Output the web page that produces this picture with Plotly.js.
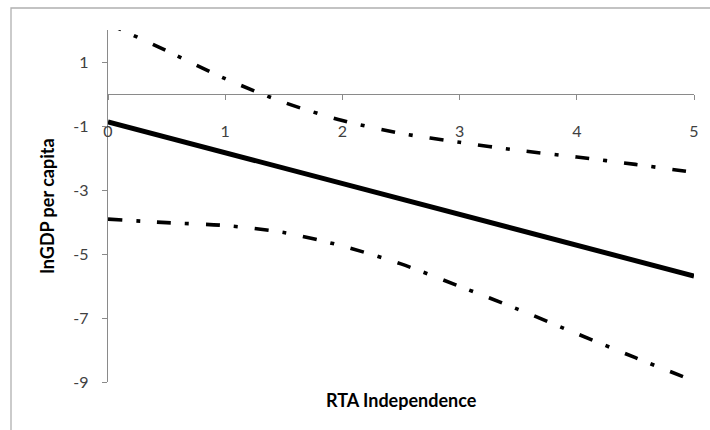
<!DOCTYPE html>
<html>
<head>
<meta charset="utf-8">
<script src="https://cdn.plot.ly/plotly-3.0.1.min.js"></script>
<style>
  html, body { margin: 0; padding: 0; background: #ffffff; }
  #chart { width: 710px; height: 430px; }
</style>
</head>
<body>
<div id="chart"></div>
<script>
// Fitted effect of RTA independence on lnGDP per capita
const fitX = [0, 1, 2, 3, 4, 5];
const fitY = [-0.87, -1.83, -2.80, -3.76, -4.73, -5.69];

// Confidence band around the fitted line
const bandX = [0, 0.5, 1, 1.5, 2, 2.5, 3, 3.5, 4, 4.5, 5];
const upperY = [2.20, 1.35, 0.48, -0.26, -0.83, -1.23, -1.51, -1.76, -1.97, -2.20, -2.45];
const lowerY = [-3.91, -4.02, -4.11, -4.33, -4.75, -5.31, -6.01, -6.73, -7.49, -8.24, -8.97];

// Axis ticks
const xTickVals = [0, 1, 2, 3, 4, 5];
const xTickText = ['0', '1', '2', '3', '4', '5'];
const yTickVals = [1, -1, -3, -5, -7, -9];
const yTickText = ['1', '-1', '-3', '-5', '-7', '-9'];

const xTitle = 'RTA Independence';
const yTitle = 'lnGDP per capita';

const FONT = 'Lato, "Open Sans", sans-serif';
const AXIS_GREY = '#8a8a8a';
const dashDot = '14px,14px,4px,17px';

const traces = [
  {
    x: bandX, y: upperY, type: 'scatter', mode: 'lines',
    line: { color: '#000000', width: 3.6, dash: dashDot, shape: 'spline', smoothing: 0.8 },
    hoverinfo: 'skip'
  },
  {
    x: bandX, y: lowerY, type: 'scatter', mode: 'lines',
    line: { color: '#000000', width: 3.6, dash: dashDot, shape: 'spline', smoothing: 0.8 },
    hoverinfo: 'skip'
  },
  {
    x: fitX, y: fitY, type: 'scatter', mode: 'lines',
    line: { color: '#000000', width: 5 },
    hoverinfo: 'skip'
  }
];

const yMin = -9, yMax = 2;

const layout = {
  width: 710,
  height: 430,
  margin: { l: 108, r: 16, t: 30, b: 48 },
  paper_bgcolor: '#ffffff',
  plot_bgcolor: 'rgba(0,0,0,0)',
  showlegend: false,
  font: { family: FONT, color: '#404040', size: 16 },
  xaxis: {
    range: [0, 5],
    // the category axis crosses the value axis at y = 0
    anchor: 'free',
    position: (0 - yMin) / (yMax - yMin),
    showline: true,
    linecolor: AXIS_GREY,
    linewidth: 1.2,
    showgrid: false,
    zeroline: false,
    ticks: 'outside',
    ticklen: 5,
    tickwidth: 1,
    tickcolor: AXIS_GREY,
    tickvals: xTickVals,
    ticktext: xTickText,
    ticklabelstandoff: 18,
    tickfont: { family: FONT, size: 16, color: '#404040' }
  },
  yaxis: {
    range: [yMin, yMax],
    showline: true,
    linecolor: AXIS_GREY,
    linewidth: 1.2,
    showgrid: false,
    zeroline: false,
    ticks: 'outside',
    ticklen: 5,
    tickwidth: 1,
    tickcolor: AXIS_GREY,
    tickvals: yTickVals,
    ticktext: yTickText,
    ticklabelstandoff: 10,
    tickfont: { family: FONT, size: 16, color: '#404040' },
    title: {
      text: yTitle,
      font: { family: FONT, size: 18, color: '#000000', weight: 'bold' },
      standoff: 14
    }
  },
  annotations: [
    {
      // horizontal axis title sits below the plot area
      text: xTitle, showarrow: false,
      xref: 'paper', yref: 'paper', x: 0.5, y: (382 - 400) / 352,
      xanchor: 'center', yanchor: 'middle',
      font: { family: FONT, size: 18, color: '#000000', weight: 'bold' }
    }
  ],
  shapes: [
    {
      // chart-area frame
      type: 'rect', xref: 'paper', yref: 'paper', layer: 'below',
      x0: (11 - 108) / 586, x1: (716 - 108) / 586,
      y0: (382 - 440) / 352, y1: 1 + (30 - 8) / 352,
      line: { color: '#b0b0b0', width: 1.3 },
      fillcolor: 'rgba(0,0,0,0)'
    }
  ]
};

Plotly.newPlot('chart', traces, layout, { staticPlot: true, displayModeBar: false });
</script>
</body>
</html>
